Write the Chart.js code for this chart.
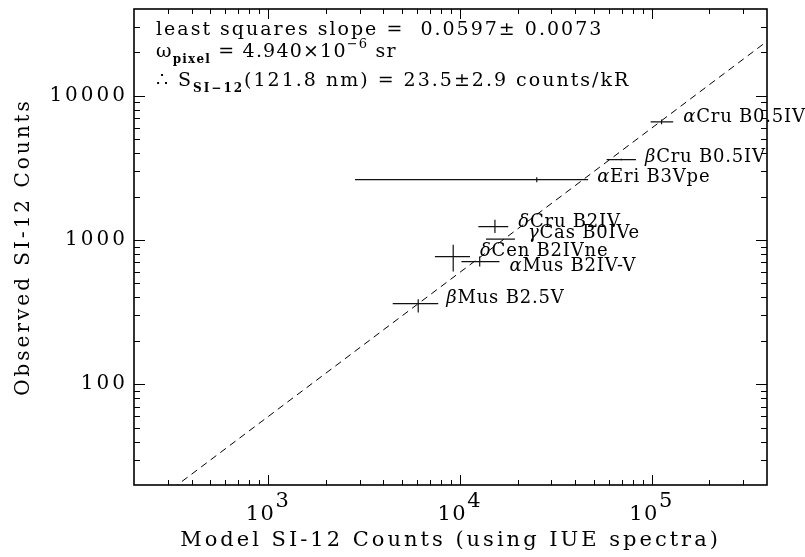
<!DOCTYPE html>
<html>
<head>
<meta charset="utf-8">
<script src="https://cdn.jsdelivr.net/npm/chart.js@4.4.1/dist/chart.umd.min.js"></script>
<style>
  html, body { margin: 0; padding: 0; background: #fff; }
  #wrap { width: 805px; height: 557px; }
</style>
</head>
<body>
<div id="wrap"><canvas id="chart" width="805" height="557"></canvas></div>
<script>
/* ----------------------------------------------------------
   DATA
----------------------------------------------------------- */
const starNames = ["αCru B0.5IV", "βCru B0.5IV", "αEri B3Vpe", "δCru B2IV",
                   "γCas B0IVe", "δCen B2IVne", "αMus B2IV-V", "βMus B2.5V"];
const modelCounts = [112800, 69500, 25200, 15250, 16300, 9240, 12700, 6070];
const modelLow    = [98900, 58300, 2840, 12500, 13700, 7420, 10200, 4470];
const modelHigh   = [129700, 82900, 46700, 17900, 19400, 11300, 16100, 7720];
const observedCounts = [6590, 3610, 2620, 1240, 1014, 768, 709, 362];
const observedLow    = [6350, 3560, 2520, 1117, 1005, 604, 655, 314];
const observedHigh   = [6840, 3660, 2720, 1381, 1023, 926, 768, 389];

// least squares line (observed = slope * model), two end points
const fitModel    = [200, 500000];
const fitObserved = [11.9, 29850];

const xTickPowers = [3, 4, 5];
const yTickValues = [100, 1000, 10000];

const slopeText = "least squares slope =  0.0597\u00b1 0.0073";
const pixelText = ["\u03c9", "pixel", " = 4.940\u00d710", "\u22126", " sr"];
const sensText  = ["\u2234 S", "SI\u221212", "(121.8 nm) = 23.5\u00b12.9 counts/kR"];

/* ----------------------------------------------------------
   HELPERS / PLUGINS
----------------------------------------------------------- */
const FONT = "DejaVu Serif";

// small label offsets (px) from the right end of each horizontal bar
const labelShift = [[10, -5], [9, -2], [9, -2], [10, -4], [13, -6], [10, -5], [10, 5], [8, -5]];

function isDecadeStep(v) {
    const m = v / Math.pow(10, Math.floor(Math.log10(v) + 1e-9));
    return Math.abs(m - Math.round(m)) < 1e-6;
}

const spacing = {
    id: "spacing",
    beforeDraw(chart) {
        chart.ctx.letterSpacing = "3px";
    }
};

const frameTicks = {
    id: "frameTicks",
    afterDraw(chart) {
        const { ctx, chartArea: a, scales: { x, y } } = chart;
        ctx.save();
        ctx.strokeStyle = "#000";
        ctx.lineWidth = 1;
        ctx.beginPath();
        x.ticks.forEach(t => {
            if (!isDecadeStep(t.value)) return;
            const px = Math.round(x.getPixelForValue(t.value)) + 0.5;
            if (px <= a.left + 1 || px >= a.right - 1) return;
            const len = Number.isInteger(Math.log10(t.value)) ? 10 : 5;
            ctx.moveTo(px, a.bottom); ctx.lineTo(px, a.bottom - len);
            ctx.moveTo(px, a.top); ctx.lineTo(px, a.top + len);
        });
        y.ticks.forEach(t => {
            if (!isDecadeStep(t.value)) return;
            const py = Math.round(y.getPixelForValue(t.value)) + 0.5;
            if (py <= a.top + 1 || py >= a.bottom - 1) return;
            const len = Number.isInteger(Math.log10(t.value)) ? 11 : 6;
            ctx.moveTo(a.left, py); ctx.lineTo(a.left + len, py);
            ctx.moveTo(a.right, py); ctx.lineTo(a.right - len, py);
        });
        ctx.stroke();
        ctx.lineWidth = 1.6;
        ctx.strokeRect(a.left, a.top, a.right - a.left, a.bottom - a.top);

        // x tick labels as 10 with a raised exponent
        ctx.letterSpacing = "1.5px";
        ctx.fillStyle = "#000";
        ctx.textBaseline = "alphabetic";
        ctx.textAlign = "left";
        xTickPowers.forEach(p => {
            const px = x.getPixelForValue(Math.pow(10, p));
            ctx.font = `21px "${FONT}"`;
            const wBase = ctx.measureText("10").width;
            const wExp = ctx.measureText(String(p)).width;
            const x0 = px - (wBase + wExp) / 2;
            ctx.fillText("10", x0, a.bottom + 35);
            ctx.fillText(String(p), x0 + wBase, a.bottom + 22);
        });
        ctx.restore();
    }
};

const errorBars = {
    id: "errorBars",
    afterDatasetsDraw(chart) {
        const { ctx, chartArea: a, scales: { x, y } } = chart;
        ctx.save();
        ctx.beginPath();
        ctx.rect(a.left, a.top, a.right - a.left, a.bottom - a.top);
        ctx.clip();
        ctx.strokeStyle = "#111";
        ctx.lineWidth = 1.2;
        ctx.beginPath();
        modelCounts.forEach((m, i) => {
            const cx = x.getPixelForValue(m);
            const cy = y.getPixelForValue(observedCounts[i]);
            ctx.moveTo(x.getPixelForValue(modelLow[i]), cy);
            ctx.lineTo(x.getPixelForValue(modelHigh[i]), cy);
            ctx.moveTo(cx, y.getPixelForValue(observedLow[i]));
            ctx.lineTo(cx, y.getPixelForValue(observedHigh[i]));
        });
        ctx.stroke();
        ctx.restore();

        // star labels
        ctx.save();
        ctx.letterSpacing = "0.8px";
        ctx.fillStyle = "#000";
        ctx.textBaseline = "middle";
        ctx.textAlign = "left";
        starNames.forEach((name, i) => {
            const lx = x.getPixelForValue(modelHigh[i]) + labelShift[i][0];
            const ly = y.getPixelForValue(observedCounts[i]) + labelShift[i][1];
            ctx.font = `italic 18px "${FONT}"`;
            const g = name[0];
            ctx.fillText(g, lx, ly);
            const w = ctx.measureText(g).width;
            ctx.font = `18px "${FONT}"`;
            ctx.fillText(name.slice(1), lx + w, ly);
        });
        ctx.restore();
    }
};

// draw a run of text pieces: [normal, sub/sup, normal, ...]
function drawPieces(ctx, x, y, pieces, kinds) {
    let cx = x;
    pieces.forEach((t, i) => {
        const k = kinds[i];
        let dy = 0;
        if (k === "sub") { ctx.font = `bold 12px "${FONT}"`; dy = 6; }
        else if (k === "sup") { ctx.font = `13px "${FONT}"`; dy = -9; }
        else ctx.font = `19px "${FONT}"`;
        ctx.fillText(t, cx, y + dy);
        cx += ctx.measureText(t).width;
    });
}

const notes = {
    id: "notes",
    afterDraw(chart) {
        const { ctx, chartArea: a } = chart;
        ctx.save();
        ctx.fillStyle = "#000";
        ctx.textAlign = "left";
        ctx.textBaseline = "alphabetic";
        const x0 = a.left + 22;
        ctx.letterSpacing = "2px";
        ctx.font = `19px "${FONT}"`;
        ctx.fillText(slopeText, x0, a.top + 26);
        ctx.letterSpacing = "1.2px";
        drawPieces(ctx, x0, a.top + 48, pixelText, ["n", "sub", "n", "sup", "n"]);
        ctx.letterSpacing = "2px";
        drawPieces(ctx, x0, a.top + 77, sensText, ["n", "sub", "n"]);
        ctx.restore();
    }
};

/* ----------------------------------------------------------
   CHART
----------------------------------------------------------- */
const ctx = document.getElementById("chart");

new Chart(ctx, {
    type: "scatter",
    data: {
        datasets: [
            {
                type: "line",
                label: "fit",
                data: fitModel.map((m, i) => ({ x: m, y: fitObserved[i] })),
                borderColor: "#000",
                borderWidth: 1,
                borderDash: [7, 5],
                pointRadius: 0,
                fill: false
            },
            {
                label: "stars",
                data: modelCounts.map((m, i) => ({ x: m, y: observedCounts[i] })),
                pointRadius: 0
            }
        ]
    },
    options: {
        responsive: false,
        animation: false,
        events: [],
        layout: { padding: { top: 9, right: 38, left: 0, bottom: 0 } },
        plugins: { legend: { display: false }, tooltip: { enabled: false } },
        scales: {
            x: {
                type: "logarithmic",
                position: "bottom",
                min: 200,
                max: 400000,
                grid: { display: false, drawTicks: false },
                border: { display: false },
                ticks: { autoSkip: false, callback: () => "" },
                title: {
                    display: true,
                    text: "Model SI-12 Counts (using IUE spectra)",
                    color: "#000",
                    font: { family: FONT, size: 21 },
                    padding: { top: 0, bottom: 4 }
                },
                afterFit(scale) {
                    scale.height = 72;
                    scale.paddingLeft = 0;
                    scale.paddingRight = 0;
                }
            },
            y: {
                type: "logarithmic",
                position: "left",
                min: 20,
                max: 40000,
                grid: { display: false, drawTicks: false },
                border: { display: false },
                ticks: {
                    autoSkip: false,
                    padding: 6,
                    color: "#000",
                    font: { family: FONT, size: 20 },
                    callback: v => yTickValues.includes(v) ? String(v) : ""
                },
                title: {
                    display: true,
                    text: "Observed SI-12 Counts",
                    color: "#000",
                    font: { family: FONT, size: 20 },
                    padding: { top: 12, bottom: 0 }
                },
                afterFit(scale) {
                    scale.width = 134;
                    scale.paddingTop = 0;
                    scale.paddingBottom = 0;
                }
            }
        }
    },
    plugins: [spacing, errorBars, frameTicks, notes]
});
</script>
</body>
</html>
